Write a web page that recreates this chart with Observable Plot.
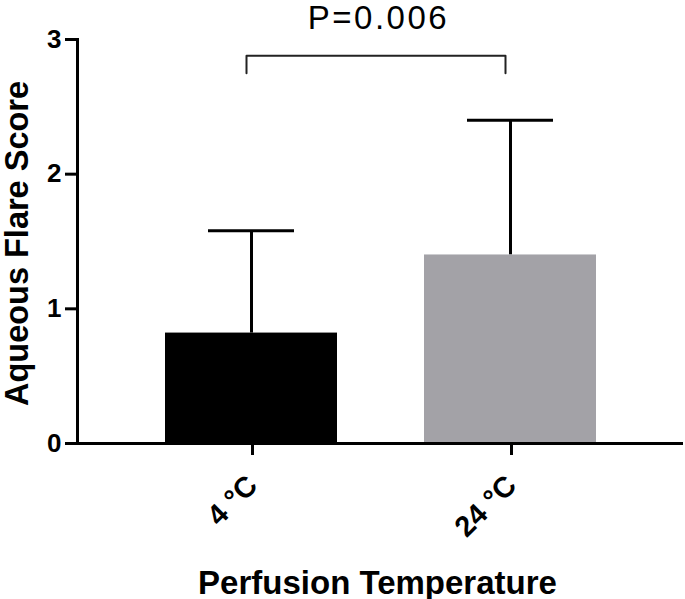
<!DOCTYPE html>
<html>
<head>
<meta charset="utf-8">
<script src="https://cdn.jsdelivr.net/npm/d3@7"></script>
<script src="https://cdn.jsdelivr.net/npm/@observablehq/plot@0.6"></script>
<style>
  html, body { margin: 0; padding: 0; background: #fff; }
  #chart svg { display: block; }
</style>
</head>
<body>
<div id="chart"></div>
<script>
// Data
const temps = ["4 °C", "24 °C"];
const means = [0.82, 1.40];
const sds = [0.76, 1.00];
const barColors = ["#000000", "#a3a2a7"];
const yTicks = [0, 1, 2, 3];
const pLabel = "P=0.006";
const bracketFoot = 2.75;
const bracketTop = 2.88;
const xTitle = "Perfusion Temperature";
const yTitle = "Aqueous Flare Score";

const rows = temps.map((t, i) => ({temp: t, mean: means[i], top: means[i] + sds[i], color: barColors[i]}));
const bracket = [
  {temp: temps[0], y: bracketFoot},
  {temp: temps[0], y: bracketTop},
  {temp: temps[1], y: bracketTop},
  {temp: temps[1], y: bracketFoot}
];

const font = "'Liberation Sans', Arial, Helvetica, sans-serif";

const chart = Plot.plot({
  width: 685,
  height: 599,
  marginTop: 39,
  marginBottom: 156,
  marginLeft: 77,
  marginRight: 2,
  style: {fontFamily: font, color: "#000", background: "#fff"},
  x: {type: "band", domain: temps, paddingInner: 0.337, paddingOuter: 0.336},
  y: {domain: [0, 3]},
  marks: [
    Plot.ruleX(rows, {x: "temp", y1: "mean", y2: "top", stroke: "#000", strokeWidth: 3}),
    Plot.tickY(rows, {x: "temp", y: "top", stroke: "#000", strokeWidth: 3, insetLeft: 43, insetRight: 43}),
    Plot.barY(rows, {x: "temp", y: "mean", fill: "color"}),
    Plot.line(bracket, {x: "temp", y: "y", stroke: "#222", strokeWidth: 2, dx: -5}),
    Plot.ruleY([0], {stroke: "#000", strokeWidth: 3}),
    Plot.frame({anchor: "left", stroke: "#000", strokeWidth: 3}),
    Plot.axisY({ticks: yTicks, tickFormat: d3.format("d"), tickSize: 12, tickPadding: 4, strokeWidth: 3, fontSize: 26, fontWeight: "bold", label: null}),
    Plot.axisX({tickSize: 12, tickRotate: -45, tickPadding: 25, dx: 1, strokeWidth: 3, fontSize: 29, fontWeight: "bold", label: null}),
    Plot.text([pLabel], {frameAnchor: "top", dy: -11, dx: -2, lineAnchor: "bottom", fontSize: 33, fill: "#000", className: "ptext"}),
    Plot.text([xTitle], {frameAnchor: "bottom", dy: 150, dx: -3, lineAnchor: "bottom", fontSize: 33, fontWeight: "bold", fill: "#000"}),
    Plot.text([yTitle], {frameAnchor: "left", textAnchor: "middle", rotate: -90, dx: -60, dy: 2, fontSize: 32.5, fontWeight: "bold", fill: "#000"})
  ]
});
d3.select(chart).selectAll(".ptext text").attr("letter-spacing", "2.5px");
document.getElementById("chart").appendChild(chart);
</script>
</body>
</html>
